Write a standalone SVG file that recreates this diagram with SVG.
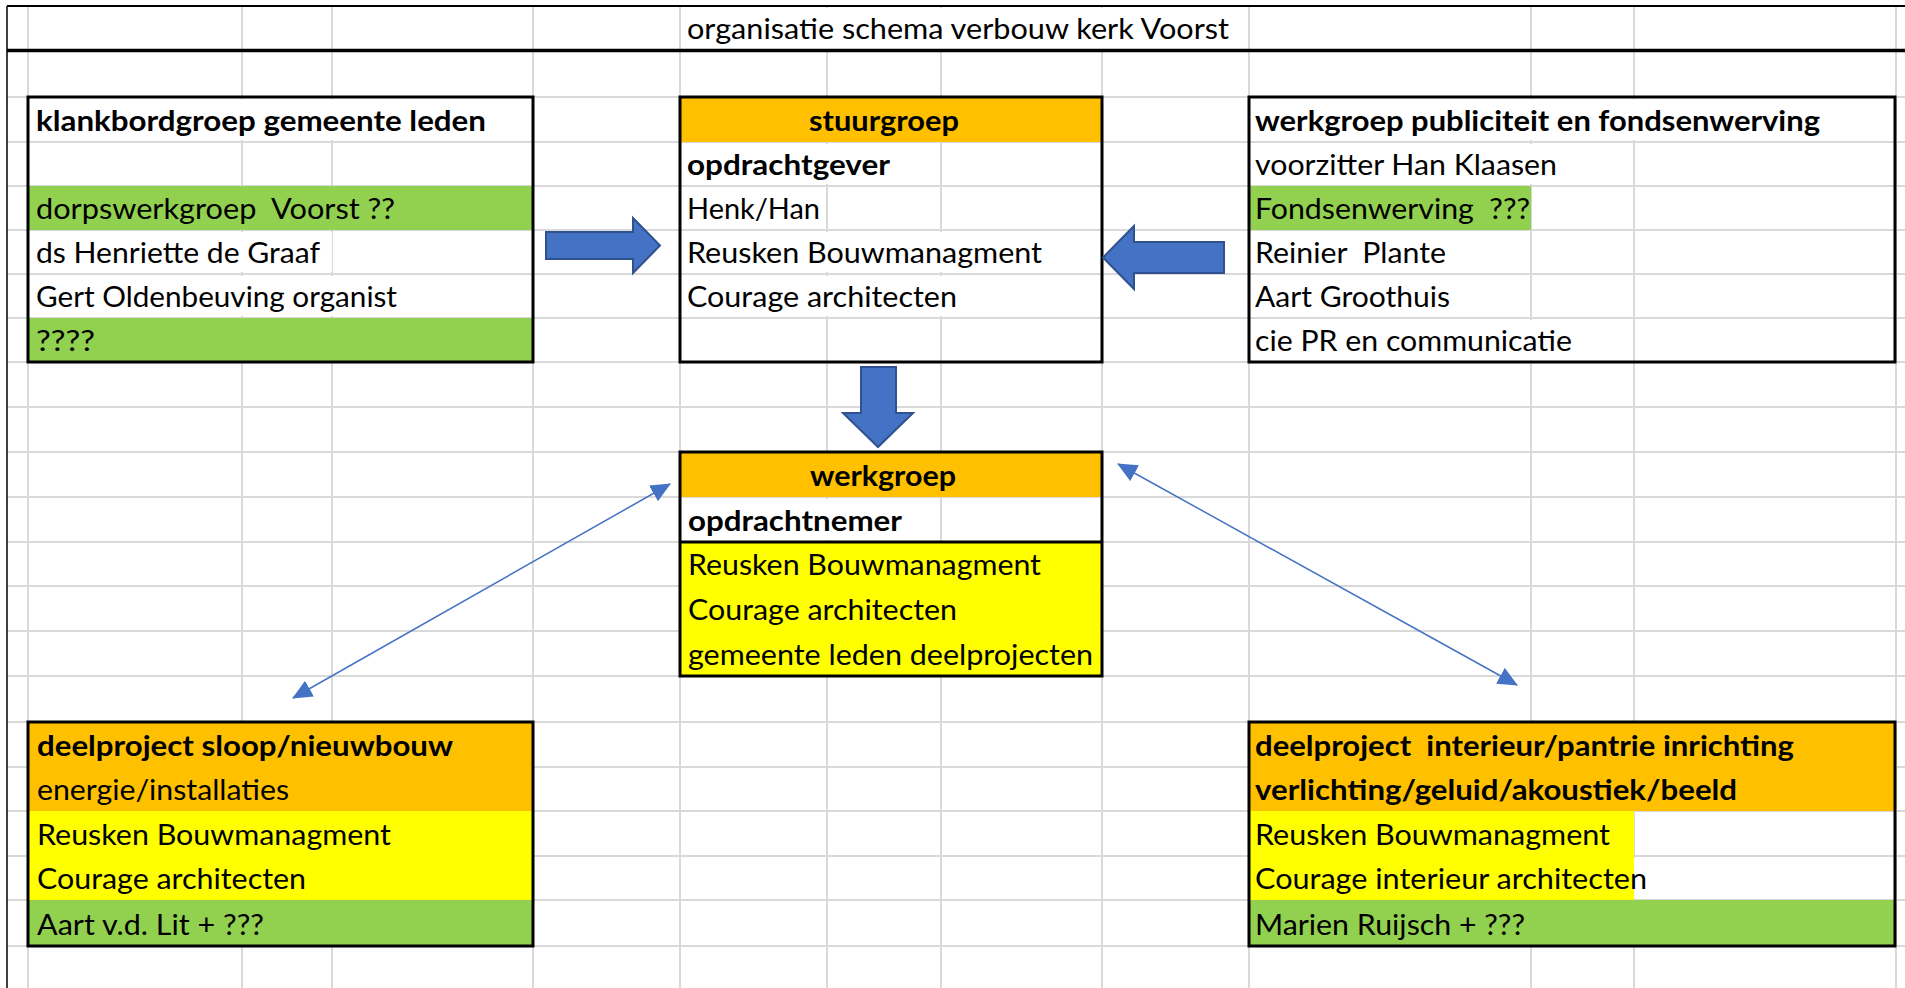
<svg xmlns="http://www.w3.org/2000/svg" width="1905" height="988" viewBox="0 0 1905 988">
<style>
.t{font-family:Lato,"Liberation Sans",sans-serif;font-size:28px;fill:#000;white-space:pre}
.b{font-weight:bold}
.box{fill:none;stroke:#000;stroke-width:3}
.or{fill:#FFC000}
.ye{fill:#FFFF00}
.gr{fill:#92D050}
.wh{fill:#fff}
.grid{stroke:#D9D9D9;stroke-width:2;fill:none}
.blk{fill:#4472C4;stroke:#2F528F;stroke-width:2;stroke-linejoin:miter}
.thin{stroke:#4472C4;stroke-width:1.5;fill:none;marker-start:url(#ah);marker-end:url(#ah)}
</style>
<defs>
<marker id="ah" markerUnits="userSpaceOnUse" markerWidth="20" markerHeight="18" viewBox="0 0 20 18" refX="19" refY="9" orient="auto-start-reverse">
<path d="M0,0 L20,9 L0,18 z" fill="#4472C4"/>
</marker>
</defs>
<rect x="0" y="0" width="1905" height="988" fill="#fff"/>
<g id="grid">
<path class="grid" d="M7,97H1905M7,142H1905M7,186H1905M7,230H1905M7,274H1905M7,318H1905M7,362H1905M7,407H1905M7,452H1905M7,497H1905M7,542H1905M7,586H1905M7,631H1905M7,676H1905M7,722H1905M7,767H1905M7,811H1905M7,856H1905M7,900H1905M7,946H1905"/>
<path class="grid" d="M28,6V988M242,6V988M332,6V988M533,6V988M680,6V988M827,6V988M941,6V988M1102,6V988M1249,6V988M1531,6V988M1634,6V988M1896,6V988"/>
</g>
<g id="title">
<rect class="wh" x="681" y="8" width="567" height="41"/>
<path d="M7,6H1905" stroke="#000" stroke-width="2"/>
<path d="M7,6V988" stroke="#000" stroke-width="1.5"/>
<path d="M7,50.5H1905" stroke="#000" stroke-width="3.5"/>
<text class="t" x="687" y="39" textLength="542" lengthAdjust="spacingAndGlyphs">organisatie schema verbouw kerk Voorst</text>
</g>
<g id="klankbord">
<rect class="wh" x="29" y="99" width="503" height="41"/>
<rect class="gr" x="28" y="186" width="505" height="44"/>
<rect class="wh" x="29" y="232" width="303" height="40"/>
<rect class="wh" x="29" y="276" width="503" height="40"/>
<rect class="gr" x="28" y="318" width="505" height="44"/>
<text class="t b" x="36" y="131" textLength="450" lengthAdjust="spacingAndGlyphs">klankbordgroep gemeente leden</text>
<text class="t" x="36" y="219" textLength="359" lengthAdjust="spacingAndGlyphs">dorpswerkgroep  Voorst ??</text>
<text class="t" x="36" y="263" textLength="284" lengthAdjust="spacingAndGlyphs">ds Henriette de Graaf</text>
<text class="t" x="36" y="307" textLength="361" lengthAdjust="spacingAndGlyphs">Gert Oldenbeuving organist</text>
<text class="t" x="36" y="351" textLength="59" lengthAdjust="spacingAndGlyphs">????</text>
<rect class="box" x="28" y="97" width="505" height="265"/>
</g>
<g id="stuurgroep">
<rect class="or" x="680" y="97" width="422" height="45"/>
<rect class="wh" x="681" y="144" width="259" height="40"/>
<rect class="wh" x="681" y="232" width="420" height="40"/>
<rect class="wh" x="681" y="276" width="420" height="40"/>
<text class="t b" x="884" y="131" text-anchor="middle" textLength="150" lengthAdjust="spacingAndGlyphs">stuurgroep</text>
<text class="t b" x="687" y="175" textLength="203" lengthAdjust="spacingAndGlyphs">opdrachtgever</text>
<text class="t" x="687" y="219" textLength="133" lengthAdjust="spacingAndGlyphs">Henk/Han</text>
<text class="t" x="687" y="263" textLength="355" lengthAdjust="spacingAndGlyphs">Reusken Bouwmanagment</text>
<text class="t" x="687" y="307" textLength="270" lengthAdjust="spacingAndGlyphs">Courage architecten</text>
<rect class="box" x="680" y="97" width="422" height="265"/>
</g>
<g id="publiciteit">
<rect class="wh" x="1250" y="99" width="644" height="41"/>
<rect class="wh" x="1250" y="144" width="383" height="40"/>
<rect class="gr" x="1249" y="186" width="282" height="44"/>
<rect class="wh" x="1250" y="320" width="383" height="40"/>
<text class="t b" x="1255" y="131" textLength="565" lengthAdjust="spacingAndGlyphs">werkgroep publiciteit en fondsenwerving</text>
<text class="t" x="1255" y="175" textLength="302" lengthAdjust="spacingAndGlyphs">voorzitter Han Klaasen</text>
<text class="t" x="1255" y="219" textLength="275" lengthAdjust="spacingAndGlyphs">Fondsenwerving  ???</text>
<text class="t" x="1255" y="263" textLength="191" lengthAdjust="spacingAndGlyphs">Reinier  Plante</text>
<text class="t" x="1255" y="307" textLength="195" lengthAdjust="spacingAndGlyphs">Aart Groothuis</text>
<text class="t" x="1255" y="351" textLength="317" lengthAdjust="spacingAndGlyphs">cie PR en communicatie</text>
<rect class="box" x="1249" y="97" width="646" height="265"/>
</g>
<g id="werkgroep">
<rect class="or" x="680" y="452" width="422" height="45"/>
<rect class="wh" x="681" y="499" width="259" height="41"/>
<rect class="ye" x="680" y="542" width="422" height="134"/>
<text class="t b" x="883" y="486" text-anchor="middle" textLength="146" lengthAdjust="spacingAndGlyphs">werkgroep</text>
<text class="t b" x="688" y="531" textLength="214" lengthAdjust="spacingAndGlyphs">opdrachtnemer</text>
<text class="t" x="688" y="575" textLength="353" lengthAdjust="spacingAndGlyphs">Reusken Bouwmanagment</text>
<text class="t" x="688" y="620" textLength="269" lengthAdjust="spacingAndGlyphs">Courage architecten</text>
<text class="t" x="688" y="665" textLength="405" lengthAdjust="spacingAndGlyphs">gemeente leden deelprojecten</text>
<rect class="box" x="680" y="452" width="422" height="224"/>
<path d="M680,542H1102" stroke="#000" stroke-width="3"/>
</g>
<g id="deelproject-sloop">
<rect class="or" x="28" y="722" width="505" height="89"/>
<rect class="ye" x="28" y="811" width="505" height="89"/>
<rect class="gr" x="28" y="900" width="505" height="46"/>
<text class="t b" x="37" y="756" textLength="416" lengthAdjust="spacingAndGlyphs">deelproject sloop/nieuwbouw</text>
<text class="t" x="37" y="800" textLength="252" lengthAdjust="spacingAndGlyphs">energie/installaties</text>
<text class="t" x="37" y="845" textLength="354" lengthAdjust="spacingAndGlyphs">Reusken Bouwmanagment</text>
<text class="t" x="37" y="889" textLength="269" lengthAdjust="spacingAndGlyphs">Courage architecten</text>
<text class="t" x="37" y="935" textLength="227" lengthAdjust="spacingAndGlyphs">Aart v.d. Lit + ???</text>
<rect class="box" x="28" y="722" width="505" height="224"/>
</g>
<g id="deelproject-interieur">
<rect class="or" x="1249" y="722" width="646" height="89"/>
<rect class="ye" x="1249" y="811" width="385" height="89"/>
<rect class="wh" x="1634" y="858" width="260" height="40"/>
<rect class="gr" x="1249" y="900" width="646" height="46"/>
<text class="t b" x="1255" y="756" textLength="539" lengthAdjust="spacingAndGlyphs">deelproject  interieur/pantrie inrichting</text>
<text class="t b" x="1255" y="800" textLength="482" lengthAdjust="spacingAndGlyphs">verlichting/geluid/akoustiek/beeld</text>
<text class="t" x="1255" y="845" textLength="355" lengthAdjust="spacingAndGlyphs">Reusken Bouwmanagment</text>
<text class="t" x="1255" y="889" textLength="392" lengthAdjust="spacingAndGlyphs">Courage interieur architecten</text>
<text class="t" x="1255" y="935" textLength="270" lengthAdjust="spacingAndGlyphs">Marien Ruijsch + ???</text>
<rect class="box" x="1249" y="722" width="646" height="224"/>
</g>
<g id="connectors">
<polygon class="blk" points="546,232 633,232 633,218 660,245.5 633,273 633,259 546,259"/>
<polygon class="blk" points="1224,242 1134,242 1134,226 1103,257.5 1134,289 1134,273 1224,273"/>
<polygon class="blk" points="861,367 896,367 896,413 913,413 878,447 843,413 861,413"/>
<line class="thin" x1="293" y1="698" x2="670" y2="484"/>
<line class="thin" x1="1118" y1="464" x2="1517" y2="685"/>
</g>
</svg>
